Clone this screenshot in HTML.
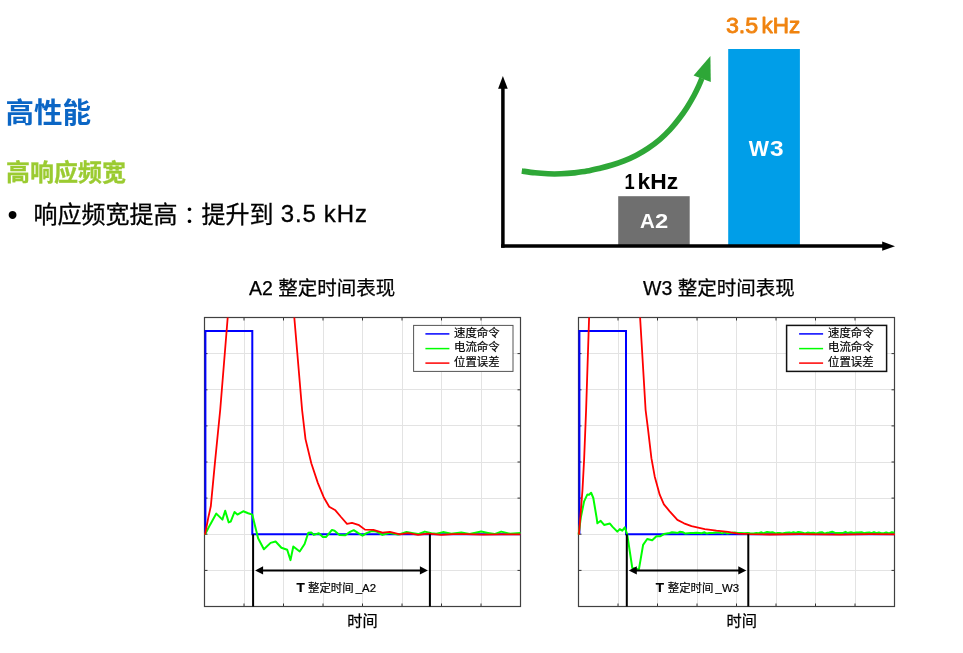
<!DOCTYPE html>
<html lang="zh-CN">
<head>
<meta charset="utf-8">
<title>高性能</title>
<style>
html,body{margin:0;padding:0;background:#fff;}
body{width:963px;height:653px;position:relative;overflow:hidden;font-family:"Liberation Sans","Noto Sans CJK SC",sans-serif;color:#000;}
.abs{position:absolute;white-space:nowrap;line-height:1;margin:0;}
h1.abs{left:5.4px;top:99.3px;font-size:28.5px;font-weight:bold;color:#0b66c5;}
h2.abs{left:6px;top:161px;font-size:24px;font-weight:bold;color:#9bcb31;-webkit-text-stroke:0.3px #9bcb31;}
.bul{left:33.5px;top:200.6px;font-size:24px;-webkit-text-stroke:0.3px #000;}
.bul .tc{font-family:"Noto Sans CJK TC","Noto Sans CJK SC",sans-serif;position:relative;top:1.5px;-webkit-text-stroke:0;}
.bul .la{letter-spacing:0.9px;word-spacing:-0.6px;position:relative;top:-1px;left:0.3px;}
.dot{left:7.6px;top:200.9px;font-size:29px;}
.ct{font-size:19.5px;top:279.4px;-webkit-text-stroke:0.25px #000;}
svg{position:absolute;left:0;top:0;}
svg text{font-family:"Liberation Sans","Noto Sans CJK SC",sans-serif;}
.lg{font-size:11.4px;fill:#000;stroke:#000;stroke-width:0.2px;}
.tl{font-size:11.4px;fill:#000;stroke:#000;stroke-width:0.2px;}
.tb{font-size:13.6px;font-weight:bold;}
.xl{font-size:15.2px;fill:#000;stroke:#000;stroke-width:0.25px;}
.bt{font-weight:bold;}
</style>
</head>
<body>
<h1 class="abs">高性能</h1>
<h2 class="abs">高响应频宽</h2>
<span class="abs dot">•</span>
<p class="abs bul">响应频宽提高<span class="tc" lang="zh-TW">：</span>提升到<span class="la"> 3.5 kHz</span></p>
<div class="abs ct" style="left:249px;">A2 整定时间表现</div>
<div class="abs ct" style="left:643px;">W3 整定时间表现</div>
<svg width="963" height="653" viewBox="0 0 963 653">
<!-- bar chart -->
<rect x="618.2" y="196.2" width="71.5" height="49" fill="#6f6f6f"/>
<rect x="728.2" y="49" width="71.7" height="196.2" fill="#009ee8"/>
<path d="M502.9 247.7 V88" stroke="#000" stroke-width="3.5" fill="none"/>
<path d="M501.1 246 H883" stroke="#000" stroke-width="3.4" fill="none"/>
<path d="M502.9 76 l4.8 12.8 h-9.6 z" fill="#000"/>
<path d="M895 246.2 l-12.8 -4.6 v9.2 z" fill="#000"/>
<path d="M521.8 171.0 C524.0 171.3 530.6 172.3 535.0 172.8 C539.4 173.3 543.7 173.6 548.0 173.8 C552.3 174.0 556.7 174.0 561.0 173.8 C565.3 173.7 569.7 173.4 574.0 172.9 C578.3 172.4 582.7 171.9 587.0 171.1 C591.3 170.3 595.8 169.2 600.0 168.2 C604.2 167.2 608.0 166.2 612.0 165.0 C616.0 163.8 620.0 162.5 624.0 160.9 C628.0 159.3 632.0 157.6 636.0 155.5 C640.0 153.4 644.0 151.1 648.0 148.4 C652.0 145.7 656.3 142.4 660.0 139.3 C663.7 136.2 666.8 133.0 670.0 129.6 C673.2 126.2 676.2 122.5 679.0 118.8 C681.8 115.1 684.5 111.3 687.0 107.4 C689.5 103.5 692.1 99.0 694.0 95.5 C695.9 92.0 697.2 89.2 698.5 86.4 C699.8 83.6 701.3 79.7 701.9 78.4" stroke="#2ea737" stroke-width="5.6" fill="none"/>
<path d="M710.4 55.9 L693.6 75.6 L710.8 82.1 Z" fill="#2ea737"/>
<text y="32.5" font-size="21.4" fill="#f0830f" stroke="#f0830f" stroke-width="0.8" stroke-linejoin="round"><tspan x="725.9" textLength="32.3" lengthAdjust="spacingAndGlyphs">3.5</tspan><tspan> </tspan><tspan x="761.5" textLength="38.8" lengthAdjust="spacingAndGlyphs">kHz</tspan></text>
<text y="156" class="bt" font-size="21.3" fill="#fff"><tspan x="748.8" textLength="20.2" lengthAdjust="spacingAndGlyphs">W</tspan><tspan x="770.1" textLength="13.6" lengthAdjust="spacingAndGlyphs">3</tspan></text>
<text y="188.7" class="bt" font-size="21.6" fill="#000"><tspan x="624.6" textLength="10.2" lengthAdjust="spacingAndGlyphs">1</tspan><tspan> </tspan><tspan x="637.6" textLength="40.6" lengthAdjust="spacingAndGlyphs">kHz</tspan></text>
<text y="227.8" class="bt" font-size="21" fill="#fff"><tspan x="640" textLength="14.8" lengthAdjust="spacingAndGlyphs">A</tspan><tspan x="654.9" textLength="13.2" lengthAdjust="spacingAndGlyphs">2</tspan></text>
<!-- A2 plot -->
<path d="M244.5 317.5 V606.5 M204.5 353.5 H520.5 M283.5 317.5 V606.5 M204.5 389.5 H520.5 M323.5 317.5 V606.5 M204.5 425.5 H520.5 M362.5 317.5 V606.5 M204.5 462.5 H520.5 M402.5 317.5 V606.5 M204.5 498.5 H520.5 M441.5 317.5 V606.5 M204.5 534.5 H520.5 M481.5 317.5 V606.5 M204.5 570.5 H520.5" stroke="#e3e3e3" stroke-width="1" fill="none"/>
<path d="M244.0 317.5 v3 M244.0 606.5 v-3 M204.5 353.6 h3 M520.5 353.6 h-3 M283.5 317.5 v3 M283.5 606.5 v-3 M204.5 389.8 h3 M520.5 389.8 h-3 M323.0 317.5 v3 M323.0 606.5 v-3 M204.5 425.9 h3 M520.5 425.9 h-3 M362.5 317.5 v3 M362.5 606.5 v-3 M204.5 462.0 h3 M520.5 462.0 h-3 M402.0 317.5 v3 M402.0 606.5 v-3 M204.5 498.1 h3 M520.5 498.1 h-3 M441.5 317.5 v3 M441.5 606.5 v-3 M204.5 534.2 h3 M520.5 534.2 h-3 M481.0 317.5 v3 M481.0 606.5 v-3 M204.5 570.4 h3 M520.5 570.4 h-3" stroke="#333" stroke-width="1" fill="none"/>
<rect x="204.5" y="317.5" width="316.0" height="289.0" fill="none" stroke="#404040" stroke-width="1.2"/>
<polyline points="205.4,534.2 205.4,331 252.3,331 252.3,534.2 520.5,534.2" fill="none" stroke="#0000ff" stroke-width="2"/>
<polyline points="205.0,534.6 210.0,524.9 216.3,513.6 222.4,519.6 225.2,510.8 228.7,522.4 230.7,521.6 234.5,512.0 237.4,514.6 243.2,511.3 248.2,513.3 252.3,514.6 254.8,524.9 258.1,538.2 263.9,549.3 270.6,542.9 275.6,541.5 281.4,547.7 287.2,549.8 290.5,560.1 293.3,546.5 299.7,551.5 304.6,544.0 308.3,532.7 311.3,532.4 313.8,534.9 318.8,533.2 322.9,536.9 326.2,536.9 332.0,529.9 334.5,530.7 339.5,534.9 345.3,535.2 350.0,531.9 353.7,530.2 358.3,533.2 362.5,535.7 366.6,533.2 371.6,531.1 376.6,531.6 382.4,534.9 389.9,532.9 398.2,534.6 406.5,531.9 413.1,533.2 418.1,534.1 424.8,531.6 431.4,533.2 436.4,533.7 443.0,532.1 451.3,533.7 461.3,532.4 469.6,534.1 481.2,531.6 487.9,532.9 494.5,534.1 501.2,531.6 510.0,533.7 520.5,533.0" fill="none" stroke="#00ff00" stroke-width="2" stroke-linejoin="round"/>
<polyline points="205.0,534.6 208.3,517.6 210.8,506.3 214.9,463.2 220.2,410.0 227.7,317.5" fill="none" stroke="#ff0000" stroke-width="1.8" stroke-linejoin="round"/>
<polyline points="294.3,317.5 302.1,410.0 305.5,439.1 311.3,463.2 317.9,483.1 323.7,497.2 329.2,506.7 335.4,510.3 341.0,517.0 347.0,523.8 352.0,522.9 359.1,525.2 365.0,529.6 373.3,529.9 382.4,532.7 389.9,531.9 399.8,534.4 408.1,533.2 418.1,534.9 428.1,533.7 441.4,534.9 453.0,534.1 466.0,534.1 483.0,534.6 500.0,534.3 520.5,534.4" fill="none" stroke="#ff0000" stroke-width="1.8" stroke-linejoin="round"/>
<path d="M253.1 534.2 V606.5 M429.9 534.2 V606.5" stroke="#000" stroke-width="2" fill="none"/>
<path d="M261.1 570.4 H421.9" stroke="#000" stroke-width="2" fill="none"/>
<path d="M255.1 570.4 l8 -4.2 v8.4 z M427.9 570.4 l-8 -4.2 v8.4 z" fill="#000"/>
<rect x="413.6" y="325.4" width="99.39999999999998" height="46" fill="#fff" stroke="#555" stroke-width="1"/>
<path d="M425.4 333.9 H449.4" stroke="#0000ff" stroke-width="1.5"/>
<path d="M425.4 348.6 H449.4" stroke="#00ff00" stroke-width="1.5"/>
<path d="M425.4 363.1 H449.4" stroke="#ff0000" stroke-width="1.5"/>
<text x="454.0" y="337.2" class="lg">速度命令</text>
<text x="454.0" y="351.0" class="lg">电流命令</text>
<text x="454.0" y="365.9" class="lg">位置误差</text>
<text x="296.6" y="591.8" class="tl"><tspan class="tb">T</tspan><tspan dx="3.1">整定时间</tspan><tspan dx="2.2">_A2</tspan></text>
<text x="362.5" y="626" class="xl" text-anchor="middle">时间</text>
<!-- W3 plot -->
<path d="M618.5 317.5 V606.5 M578.5 353.5 H894.5 M657.5 317.5 V606.5 M578.5 389.5 H894.5 M697.5 317.5 V606.5 M578.5 425.5 H894.5 M736.5 317.5 V606.5 M578.5 462.5 H894.5 M776.5 317.5 V606.5 M578.5 498.5 H894.5 M815.5 317.5 V606.5 M578.5 534.5 H894.5 M855.5 317.5 V606.5 M578.5 570.5 H894.5" stroke="#e3e3e3" stroke-width="1" fill="none"/>
<path d="M618.0 317.5 v3 M618.0 606.5 v-3 M578.5 353.6 h3 M894.5 353.6 h-3 M657.5 317.5 v3 M657.5 606.5 v-3 M578.5 389.8 h3 M894.5 389.8 h-3 M697.0 317.5 v3 M697.0 606.5 v-3 M578.5 425.9 h3 M894.5 425.9 h-3 M736.5 317.5 v3 M736.5 606.5 v-3 M578.5 462.0 h3 M894.5 462.0 h-3 M776.0 317.5 v3 M776.0 606.5 v-3 M578.5 498.1 h3 M894.5 498.1 h-3 M815.5 317.5 v3 M815.5 606.5 v-3 M578.5 534.2 h3 M894.5 534.2 h-3 M855.0 317.5 v3 M855.0 606.5 v-3 M578.5 570.4 h3 M894.5 570.4 h-3" stroke="#333" stroke-width="1" fill="none"/>
<rect x="578.5" y="317.5" width="316.0" height="289.0" fill="none" stroke="#404040" stroke-width="1.2"/>
<polyline points="579.4,534.2 579.4,331 626.0,331 626.0,534.2 894.5,534.2" fill="none" stroke="#0000ff" stroke-width="2"/>
<polyline points="578.6,534.6 580.8,517.6 584.1,501.4 587.4,494.4 589.1,494.7 591.1,492.7 593.3,498.0 596.6,517.6 597.4,523.3 600.7,520.8 604.1,524.9 609.9,523.6 612.4,526.6 617.3,531.6 619.8,529.1 622.3,530.7 624.8,527.4 627.3,534.9 632.3,568.1 638.9,569.4 643.1,544.9 647.2,539.0 652.2,540.2 656.4,536.2 660.5,536.2 663.9,534.1 669.7,532.9 672.0,532.2 674.8,532.5 677.7,532.9 679.8,531.8 683.1,532.3 685.4,533.6 688.1,533.3 690.8,533.0 693.1,532.9 696.4,532.7 699.5,533.0 701.6,533.2 704.5,532.3 706.5,533.4 709.2,533.1 712.5,533.1 715.9,532.5 719.1,532.6 722.5,533.4 724.7,532.0 727.0,533.5 729.7,532.9 732.1,532.7 734.7,532.4 737.6,532.9 740.9,533.0 744.3,533.3 747.8,533.0 750.0,533.3 753.5,533.4 756.3,533.1 758.7,533.3 761.5,532.3 763.6,533.3 767.1,532.0 770.3,532.5 772.5,532.3 775.7,533.4 777.7,532.9 779.8,533.1 782.3,533.4 785.8,532.7 789.3,532.4 791.4,532.9 793.4,532.2 796.1,532.9 798.3,531.9 801.6,532.4 805.0,533.4 807.6,532.6 810.4,533.0 813.3,532.8 816.2,533.5 819.0,532.6 822.0,532.2 824.5,533.6 827.3,532.8 829.3,532.5 832.2,531.8 835.1,532.9 837.2,532.9 839.9,533.0 842.4,533.1 845.5,531.8 847.6,533.0 851.0,532.3 853.7,532.9 856.2,532.5 858.7,532.5 861.6,532.3 864.1,533.2 866.2,532.8 869.3,532.4 871.6,533.2 874.0,532.1 876.6,533.1 878.8,532.4 881.3,533.3 883.9,533.3 886.2,532.4 889.2,533.4 891.8,532.2 894.0,532.8 894.5,532.8" fill="none" stroke="#00ff00" stroke-width="2" stroke-linejoin="round"/>
<polyline points="578.9,534.6 580.3,517.6 582.5,489.7 584.1,459.8 586.1,410.0 589.1,317.5" fill="none" stroke="#ff0000" stroke-width="1.8" stroke-linejoin="round"/>
<polyline points="640.1,317.5 645.6,410.0 648.1,429.9 651.4,458.2 654.7,476.4 659.7,494.7 663.9,504.4 669.7,511.3 677.4,519.9 684.0,523.3 691.5,526.2 704.8,529.1 716.4,530.7 728.1,531.9 738.0,533.6 749.7,534.1 770.0,534.5 800.0,534.2 840.0,534.6 870.0,534.2 895.0,534.4" fill="none" stroke="#ff0000" stroke-width="1.8" stroke-linejoin="round"/>
<path d="M626.8 534.2 V606.5 M748.3 534.2 V606.5" stroke="#000" stroke-width="2" fill="none"/>
<path d="M634.8 570.4 H740.3" stroke="#000" stroke-width="2" fill="none"/>
<path d="M628.8 570.4 l8 -4.2 v8.4 z M746.3 570.4 l-8 -4.2 v8.4 z" fill="#000"/>
<rect x="786.6" y="325.4" width="100.0" height="46" fill="#fff" stroke="#111" stroke-width="1.5"/>
<path d="M799.1 333.9 H823.1" stroke="#0000ff" stroke-width="1.5"/>
<path d="M799.1 348.6 H823.1" stroke="#00ff00" stroke-width="1.5"/>
<path d="M799.1 363.1 H823.1" stroke="#ff0000" stroke-width="1.5"/>
<text x="828.0" y="337.2" class="lg">速度命令</text>
<text x="828.0" y="351.0" class="lg">电流命令</text>
<text x="828.0" y="365.9" class="lg">位置误差</text>
<text x="655.8" y="591.8" class="tl"><tspan class="tb">T</tspan><tspan dx="3.7">整定时间</tspan><tspan dx="2.2">_W3</tspan></text>
<text x="741.8" y="626" class="xl" text-anchor="middle">时间</text>
</svg>
</body>
</html>
